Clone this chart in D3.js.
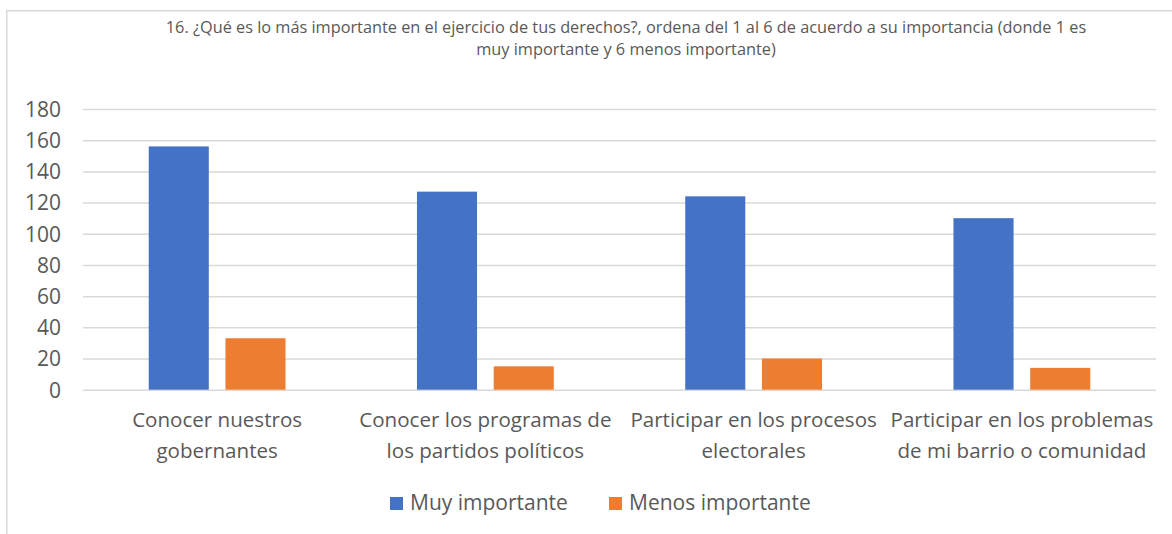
<!DOCTYPE html>
<html><head><meta charset="utf-8">
<script src="https://cdn.jsdelivr.net/npm/d3@7"></script>
<style>body{margin:0;background:#fff}svg{display:block}</style></head>
<body>
<svg id="c" width="1172" height="534"></svg>
<script>
const titleLines = ["16. ¿Qué es lo más importante en el ejercicio de tus derechos?, ordena del 1 al 6 de acuerdo a su importancia (donde 1 es", "muy importante y 6 menos importante)"];
const categories = [["Conocer nuestros","gobernantes"],["Conocer los programas de","los partidos políticos"],["Participar en los procesos","electorales"],["Participar en los problemas","de mi barrio o comunidad"]];
const seriesNames = ["Muy importante","Menos importante"];
const muyImportante = [156,127,124,110];
const menosImportante = [33,15,20,14];
const yTicks = [0,20,40,60,80,100,120,140,160,180];
const colors = ["#4472C4","#ED7D31"];

const FONT = "'Open Sans', 'Noto Sans', sans-serif";
const TXT = "#595959";
const svg = d3.select("#c");

// fit a font size so that a sample string has the given width
function fitSize(sample, target){
  const t = svg.append("text").style("font-family",FONT).style("font-size","20px").text(sample);
  const w = t.node().getComputedTextLength();
  t.remove();
  return 20*target/w;
}
const titleSize = fitSize(titleLines[0], 921);
const catSize = fitSize(categories[0][0], 170);
const legSize = fitSize(seriesNames[0], 158);
const tickSize = fitSize("180", 36);

// chart frame
svg.append("path").attr("d","M6.75,534 V10.75 H1172").attr("fill","none").attr("stroke","#d9d9d9").attr("stroke-width",1.5);

const plot = {l:83, r:1156, t:109, b:389.7};
const x0 = d3.scaleBand().domain(d3.range(categories.length)).range([plot.l, plot.r]);
const x1 = d3.scaleBand().domain([0,1]).range([x0.bandwidth()*0.245, x0.bandwidth()*0.755]).paddingInner(0.217);
const y = d3.scaleLinear().domain([0,180]).range([plot.b, plot.t]);

// gridlines + tick labels
const gAxis = svg.append("g").attr("transform",`translate(${plot.l},0)`)
  .call(d3.axisLeft(y).tickValues(yTicks).tickSize(-(plot.r-plot.l)).tickPadding(22));
gAxis.select(".domain").remove();
gAxis.selectAll(".tick line").attr("stroke","#d9d9d9").attr("stroke-width",1.5);
gAxis.selectAll(".tick text").attr("fill",TXT).style("font-family",FONT).style("font-size",tickSize+"px").attr("dy","0.35em");

// bars
const series = [muyImportante, menosImportante];
const g = svg.append("g");
series.forEach((vals,si)=>{
  g.selectAll(null).data(vals).enter().append("rect")
    .attr("x",(d,i)=>x0(i)+x1(si))
    .attr("width",x1.bandwidth())
    .attr("y",d=>y(d))
    .attr("height",d=>y(0)-y(d))
    .attr("fill",colors[si]);
});

// category labels
categories.forEach((lines,i)=>{
  const cx = x0(i)+x0.bandwidth()/2;
  const t = svg.append("text").attr("x",cx).attr("y",427)
    .attr("text-anchor","middle").attr("fill",TXT).style("font-family",FONT).style("font-size",catSize+"px");
  lines.forEach((ln,j)=>t.append("tspan").attr("x",cx).attr("dy",j?30.5:0).text(ln));
});

// title
const tt = svg.append("text").attr("x",626).attr("y",33).attr("text-anchor","middle").attr("fill",TXT)
  .style("font-family",FONT).style("font-size",titleSize+"px");
titleLines.forEach((ln,j)=>tt.append("tspan").attr("x",626).attr("dy",j?22:0).text(ln));

// legend
const legendX = [390, 609];
seriesNames.forEach((n,i)=>{
  svg.append("rect").attr("x",legendX[i]).attr("y",497).attr("width",13).attr("height",13).attr("fill",colors[i]);
  svg.append("text").attr("x",legendX[i]+20).attr("y",510).attr("fill",TXT).style("font-family",FONT).style("font-size",legSize+"px").text(n);
});
</script>
</body></html>
